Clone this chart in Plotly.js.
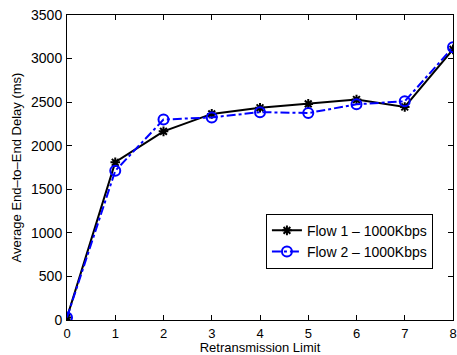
<!DOCTYPE html>
<html>
<head>
<meta charset="utf-8">
<script src="https://cdn.plot.ly/plotly-3.0.1.min.js"></script>
<style>
  html, body { margin: 0; padding: 0; background: #fff; }
  #chart { width: 457px; height: 355px; }
</style>
</head>
<body>
<div id="chart"></div>
<script>
// Retransmission limit on the x axis
const retxLimit = [0, 1, 2, 3, 4, 5, 6, 7, 8];
// Average end-to-end delay (ms) per flow
const flow1Delay = [30, 1810, 2165, 2365, 2435, 2480, 2530, 2445, 3105];
const flow2Delay = [30, 1712, 2300, 2325, 2385, 2375, 2475, 2510, 3130];
const seriesNames = ['Flow 1 \u2013 1000Kbps', 'Flow 2 \u2013 1000Kbps'];

const FONT = 'Liberation Sans, Arial, Helvetica, sans-serif';

const traces = [
  {
    x: retxLimit, y: flow1Delay, name: seriesNames[0],
    mode: 'lines+markers', type: 'scatter',
    line: { color: '#000000', width: 2 },
    marker: { symbol: 'asterisk-open', size: 8, color: '#000000', line: { color: '#000000', width: 2 } }
  },
  {
    x: retxLimit, y: flow2Delay, name: seriesNames[1],
    mode: 'lines+markers', type: 'scatter',
    line: { color: '#0000ff', width: 2, dash: 'dashdot' },
    marker: { symbol: 'circle-open', size: 10, color: '#0000ff', line: { color: '#0000ff', width: 2 } }
  }
];

const axisCommon = {
  showgrid: false, zeroline: false, showline: true, mirror: 'ticks',
  linecolor: '#000', linewidth: 1, ticks: 'inside', ticklen: 5, tickcolor: '#000'
};

const layout = {
  width: 457, height: 355,
  margin: { l: 67, r: 4, t: 15, b: 35 },
  paper_bgcolor: '#fff', plot_bgcolor: '#fff',
  showlegend: true,
  legend: {
    x: 0.948, xanchor: 'right', y: 0.168, yanchor: 'bottom',
    bgcolor: '#fff', bordercolor: '#000', borderwidth: 1,
    font: { family: FONT, size: 14, color: '#000' },
    tracegroupgap: 0
  },
  xaxis: Object.assign({}, axisCommon, {
    range: [0, 8], tickvals: retxLimit, ticklabelstandoff: 1,
    tickfont: { family: FONT, size: 13, color: '#000' },
    title: { text: 'Retransmission Limit', standoff: 0,
             font: { family: FONT, size: 13, color: '#000' } }
  }),
  yaxis: Object.assign({}, axisCommon, {
    range: [0, 3500], dtick: 500, ticklabelstandoff: 1,
    tickfont: { family: FONT, size: 14, color: '#000' },
    title: { text: 'Average End\u2013to\u2013End Delay (ms)', standoff: 6,
             font: { family: FONT, size: 13, color: '#000' } }
  })
};

Plotly.newPlot('chart', traces, layout, { displayModeBar: false, staticPlot: true });
</script>
</body>
</html>
